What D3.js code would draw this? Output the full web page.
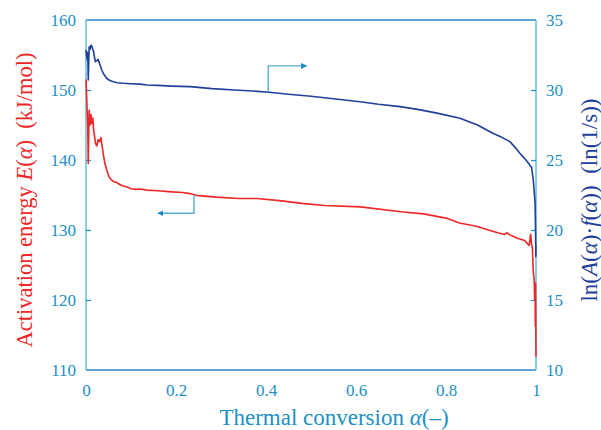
<!DOCTYPE html>
<html>
<head>
<meta charset="utf-8">
<script src="https://cdn.jsdelivr.net/npm/d3@7"></script>
<style>
  html, body { margin: 0; padding: 0; background: #fff; }
  svg text { font-family: "Liberation Serif", "DejaVu Serif", serif; }
</style>
</head>
<body>
<svg id="chart" width="601" height="430"></svg>
<script>
// Activation energy E(α) (left axis)
const alphaE = [0, 0.0015, 0.003, 0.004, 0.005, 0.007, 0.009, 0.011, 0.013, 0.015, 0.017, 0.019, 0.021, 0.024, 0.027, 0.030, 0.033, 0.036, 0.039, 0.042, 0.046, 0.051, 0.056, 0.061, 0.068, 0.075, 0.083, 0.093, 0.1, 0.11, 0.12, 0.135, 0.16, 0.19, 0.215, 0.231, 0.245, 0.29, 0.34, 0.38, 0.43, 0.48, 0.53, 0.61, 0.7, 0.75, 0.8, 0.83, 0.87, 0.9, 0.915, 0.93, 0.935, 0.945, 0.96, 0.975, 0.98, 0.985, 0.988, 0.99, 0.992, 0.994, 0.996, 0.997, 0.998, 0.9985, 0.999, 1.0];
const energy = [151.5, 149.0, 146.2, 144.5, 139.5, 147.1, 145.0, 146.5, 145.2, 146.0, 144.3, 143.4, 142.4, 142.0, 142.9, 142.6, 143.2, 141.9, 140.6, 139.5, 138.6, 137.6, 137.2, 136.9, 136.8, 136.5, 136.3, 136.1, 135.9, 135.8, 135.85, 135.7, 135.6, 135.45, 135.35, 135.2, 134.95, 134.7, 134.5, 134.5, 134.2, 133.8, 133.5, 133.3, 132.6, 132.3, 131.7, 131.0, 130.5, 129.9, 129.6, 129.35, 129.6, 129.2, 128.8, 128.5, 128.1, 127.8, 129.4, 128.1, 127.4, 124.0, 122.9, 120.0, 121.9, 116.2, 122.4, 111.9];

// ln(A(α)·f(α)) (right axis)
const alphaA = [0, 0.0015, 0.003, 0.004, 0.005, 0.007, 0.009, 0.011, 0.013, 0.015, 0.017, 0.019, 0.021, 0.024, 0.027, 0.030, 0.035, 0.04, 0.046, 0.053, 0.061, 0.07, 0.083, 0.1, 0.12, 0.135, 0.16, 0.19, 0.231, 0.28, 0.33, 0.37, 0.407, 0.45, 0.5, 0.55, 0.609, 0.65, 0.698, 0.74, 0.78, 0.831, 0.87, 0.904, 0.925, 0.942, 0.955, 0.964, 0.975, 0.985, 0.988, 0.99, 0.994, 0.998, 0.999, 0.9995, 1.0];
const lnAf = [32.86, 32.4, 32.14, 32.7, 30.71, 33.09, 32.9, 33.2, 33.14, 32.9, 32.74, 32.3, 32.02, 32.1, 32.19, 31.9, 31.43, 31.1, 30.84, 30.68, 30.59, 30.52, 30.48, 30.45, 30.42, 30.36, 30.33, 30.28, 30.24, 30.1, 30.0, 29.93, 29.84, 29.7, 29.55, 29.37, 29.16, 28.98, 28.81, 28.6, 28.35, 27.98, 27.5, 26.91, 26.6, 26.31, 25.85, 25.48, 25.1, 24.7, 24.55, 24.5, 23.57, 21.9, 20.0, 18.1, 18.9];

const xTicks = [0, 0.2, 0.4, 0.6, 0.8, 1];
const xTickLabels = ["0", "0.2", "0.4", "0.6", "0.8", "1"];
const leftTicks = [110, 120, 130, 140, 150, 160];
const rightTicks = [10, 15, 20, 25, 30, 35];

const W = 601, H = 430;
const margin = { left: 86, right: 65, top: 20, bottom: 60 };
const x0 = margin.left, x1 = W - margin.right;
const y0 = H - margin.bottom, y1 = margin.top;

const x = d3.scaleLinear().domain([0, 1]).range([x0, x1]);
const yL = d3.scaleLinear().domain([110, 160]).range([y0, y1]);
const yR = d3.scaleLinear().domain([10, 35]).range([y0, y1]);

const svg = d3.select("#chart");

const tickBlue = "#2190c6";
const frameDark = "#2a86c0";
const frameLight = "#66bcdf";
const red = "#ee2727";
const navy = "#1f3f9b";

// Frame
svg.append("line").attr("x1", x0).attr("x2", x1).attr("y1", y1).attr("y2", y1)
  .attr("stroke", frameDark).attr("stroke-width", 1.3);
svg.append("line").attr("x1", x0).attr("x2", x1).attr("y1", y0).attr("y2", y0)
  .attr("stroke", frameDark).attr("stroke-width", 1.3);
svg.append("line").attr("x1", x0).attr("x2", x0).attr("y1", y1).attr("y2", y0)
  .attr("stroke", frameLight).attr("stroke-width", 1.5);
svg.append("line").attr("x1", x1).attr("x2", x1).attr("y1", y1).attr("y2", y0)
  .attr("stroke", frameLight).attr("stroke-width", 1.5);

// Axes (inward ticks, domain drawn by the frame)
const axL = d3.axisLeft(yL).tickValues(leftTicks).tickSize(-5).tickPadding(10).tickFormat(d3.format("d"));
const axR = d3.axisRight(yR).tickValues(rightTicks).tickSize(-5).tickPadding(10).tickFormat(d3.format("d"));
const axB = d3.axisBottom(x).tickValues(xTicks).tickSize(0).tickPadding(14)
  .tickFormat((d, i) => xTickLabels[i]);

function styleAxis(g) {
  g.select(".domain").remove();
  g.selectAll(".tick line").attr("stroke", tickBlue).attr("stroke-width", 1.2);
  g.selectAll(".tick text").attr("fill", tickBlue).attr("font-size", 17)
    .attr("font-family", "Liberation Serif, serif");
}

svg.append("g").attr("transform", `translate(${x0},0)`).call(axL).call(styleAxis)
  .selectAll(".tick").filter(d => d === 110 || d === 160).select("line").remove();
svg.append("g").attr("transform", `translate(${x1},0)`).call(axR).call(styleAxis)
  .selectAll(".tick").filter(d => d === 10 || d === 35).select("line").remove();
svg.append("g").attr("transform", `translate(0,${y0})`).call(axB).call(styleAxis);

// Curves
const eData = alphaE.map((a, i) => [a, energy[i]]);
const aData = alphaA.map((a, i) => [a, lnAf[i]]);

svg.append("path").datum(eData)
  .attr("fill", "none").attr("stroke", red).attr("stroke-width", 1.6)
  .attr("stroke-linejoin", "round")
  .attr("d", d3.line().x(d => x(d[0])).y(d => yL(d[1])));

svg.append("path").datum(aData)
  .attr("fill", "none").attr("stroke", navy).attr("stroke-width", 1.6)
  .attr("stroke-linejoin", "round")
  .attr("d", d3.line().x(d => x(d[0])).y(d => yR(d[1])));

// Leader arrows pointing to each curve's axis
const arrowColor = "#5aaed6";
const defs = svg.append("defs");
defs.append("marker").attr("id", "head")
  .attr("viewBox", "0 0 10 10").attr("refX", 9).attr("refY", 5)
  .attr("markerWidth", 6).attr("markerHeight", 6).attr("markerUnits", "userSpaceOnUse")
  .attr("orient", "auto")
  .append("path").attr("d", "M0,0 L10,5 L0,10 Z").attr("fill", "#1e88c4");

const eArrow = { a: 0.24, from: 135.0, to: 132.4, tip: 0.16 };
svg.append("path")
  .attr("d", `M${x(eArrow.a)},${yL(eArrow.from)} L${x(eArrow.a)},${yL(eArrow.to)} L${x(eArrow.tip)},${yL(eArrow.to)}`)
  .attr("fill", "none").attr("stroke", arrowColor).attr("stroke-width", 1.4)
  .attr("marker-end", "url(#head)");

const aArrow = { a: 0.405, from: 29.85, to: 31.72, tip: 0.49 };
svg.append("path")
  .attr("d", `M${x(aArrow.a)},${yR(aArrow.from)} L${x(aArrow.a)},${yR(aArrow.to)} L${x(aArrow.tip)},${yR(aArrow.to)}`)
  .attr("fill", "none").attr("stroke", arrowColor).attr("stroke-width", 1.4)
  .attr("marker-end", "url(#head)");

// Axis titles
const xt = svg.append("text").attr("x", 334).attr("y", 425)
  .attr("text-anchor", "middle").attr("fill", tickBlue).attr("font-size", 23);
xt.append("tspan").text("Thermal conversion ");
xt.append("tspan").attr("font-style", "italic").text("α");
xt.append("tspan").text("(–)");

const lt = svg.append("text").attr("transform", "translate(32,200) rotate(-90)")
  .attr("text-anchor", "middle").attr("fill", red).attr("font-size", 22.5);
lt.append("tspan").text("Activation energy ");
lt.append("tspan").attr("font-style", "italic").text("E");
lt.append("tspan").text("(");
lt.append("tspan").attr("font-style", "italic").text("α");
lt.append("tspan").text(")\u2002(kJ/mol)");

const rt = svg.append("text").attr("transform", "translate(597,200) rotate(-90)")
  .attr("text-anchor", "middle").attr("fill", navy).attr("font-size", 23);
rt.append("tspan").text("ln(");
rt.append("tspan").attr("font-style", "italic").text("A");
rt.append("tspan").text("(");
rt.append("tspan").attr("font-style", "italic").text("α");
rt.append("tspan").text(")·");
rt.append("tspan").attr("font-style", "italic").text("f");
rt.append("tspan").text("(");
rt.append("tspan").attr("font-style", "italic").text("α");
rt.append("tspan").text("))\u2002(ln(1/s))");
</script>
</body>
</html>
